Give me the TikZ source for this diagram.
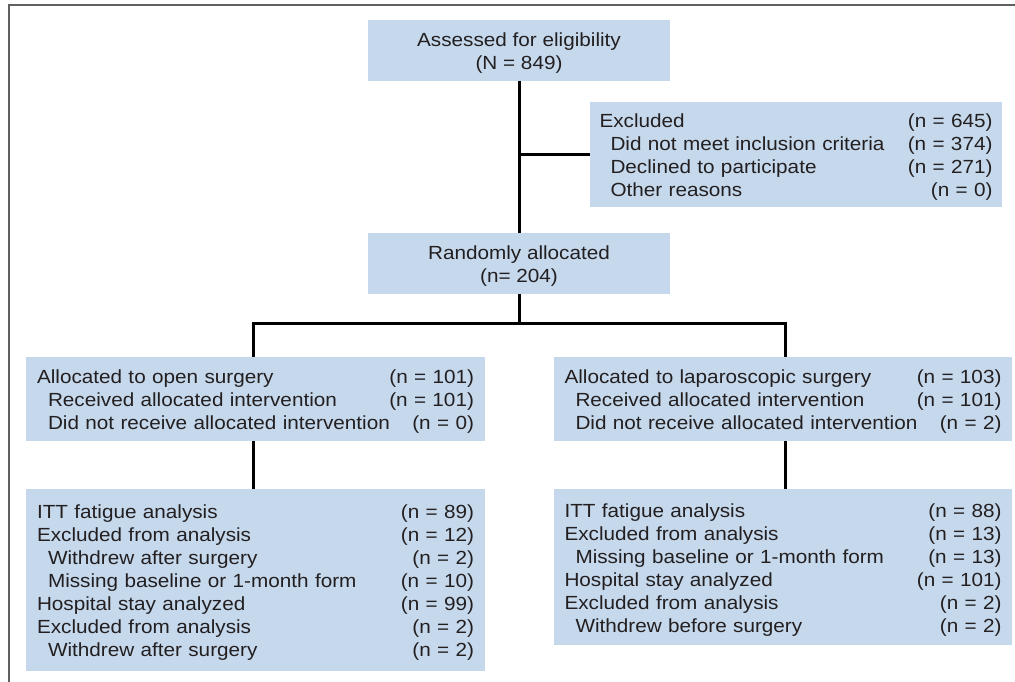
\documentclass[tikz,border=0pt]{standalone}
\usepackage{fontspec}
\setmainfont[FakeStretch=1.09]{Liberation Sans}
\definecolor{boxblue}{HTML}{C5D8EC}
\definecolor{txt}{HTML}{231F20}
\definecolor{framegray}{HTML}{606060}
\newcommand\rw[2]{\makebox[\linewidth][l]{#1\hfill #2}}
\newcommand\ind{\hspace*{11pt}}
\newcommand\topgap{\rule{0pt}{19pt}}
\tikzset{
  box/.style={fill=boxblue, draw=none, inner sep=0pt, text=txt,
    font=\fontsize{19}{23}\selectfont},
  listbox/.style={box, align=left},
  conn/.style={line width=3pt, draw=black}
}
\begin{document}
\begin{tikzpicture}[x=1pt,y=-1pt]
\useasboundingbox (0,0) rectangle (1015,682);
\draw[framegray, line width=2pt] (9,682) -- (9,5) -- (1015,5);

\node[box, align=center, minimum width=302, minimum height=61] (top) at (519,50.5)
  {\topgap Assessed for eligibility\\(N = 849)};
\node[listbox, minimum width=412, minimum height=105, text width=393] (excl) at (796,154.5)
  {\rw{\topgap Excluded}{(n = 645)}\\
   \rw{\ind Did not meet inclusion criteria}{(n = 374)}\\
   \rw{\ind Declined to participate}{(n = 271)}\\
   \rw{\ind Other reasons}{(n = 0)}};
\node[box, align=center, minimum width=302, minimum height=61] (rand) at (519,263.5)
  {\topgap Randomly allocated\\(n= 204)};
\node[listbox, minimum width=459, minimum height=84, text width=437] (open) at (255.5,399)
  {\rw{\topgap Allocated to open surgery}{(n = 101)}\\
   \rw{\ind Received allocated intervention}{(n = 101)}\\
   \rw{\ind Did not receive allocated intervention}{(n = 0)}};
\node[listbox, minimum width=458, minimum height=84, text width=437] (lap) at (783,399)
  {\rw{\topgap Allocated to laparoscopic surgery}{(n = 103)}\\
   \rw{\ind Received allocated intervention}{(n = 101)}\\
   \rw{\ind Did not receive allocated intervention}{(n = 2)}};
\node[listbox, minimum width=459, minimum height=182, text width=437] (openan) at (255.5,580)
  {\rw{\topgap ITT fatigue analysis}{(n = 89)}\\
   \rw{Excluded from analysis}{(n = 12)}\\
   \rw{\ind Withdrew after surgery}{(n = 2)}\\
   \rw{\ind Missing baseline or 1-month form}{(n = 10)}\\
   \rw{Hospital stay analyzed}{(n = 99)}\\
   \rw{Excluded from analysis}{(n = 2)}\\
   \rw{\ind Withdrew after surgery}{(n = 2)}};
\node[listbox, minimum width=458, minimum height=156, text width=437] (lapan) at (783,567)
  {\rw{\topgap ITT fatigue analysis}{(n = 88)}\\
   \rw{Excluded from analysis}{(n = 13)}\\
   \rw{\ind Missing baseline or 1-month form}{(n = 13)}\\
   \rw{Hospital stay analyzed}{(n = 101)}\\
   \rw{Excluded from analysis}{(n = 2)}\\
   \rw{\ind Withdrew before surgery}{(n = 2)}};

\coordinate (br1) at (519,155);
\coordinate (bl) at (253,323);
\coordinate (brr) at (785,323);
\draw[conn] (top.south) -- (rand.north);
\draw[conn] (br1) -- (excl.west |- br1);
\draw[conn] (rand.south) -- (rand.south |- bl);
\draw[conn] (open.north -| bl) -- (bl) -- (brr) -- (lap.north -| brr);
\draw[conn] (open.south -| bl) -- (openan.north -| bl);
\draw[conn] (lap.south -| brr) -- (lapan.north -| brr);
\end{tikzpicture}
\end{document}
